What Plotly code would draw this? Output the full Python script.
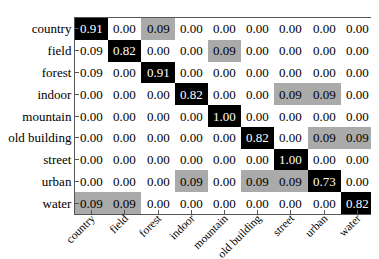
import plotly.graph_objects as go

labels = ["country", "field", "forest", "indoor", "mountain", "old building", "street", "urban", "water"]
# values printed in the cells
values = [
    [0.91, 0.00, 0.09, 0.00, 0.00, 0.00, 0.00, 0.00, 0.00],
    [0.09, 0.82, 0.00, 0.00, 0.09, 0.00, 0.00, 0.00, 0.00],
    [0.09, 0.00, 0.91, 0.00, 0.00, 0.00, 0.00, 0.00, 0.00],
    [0.00, 0.00, 0.00, 0.82, 0.00, 0.00, 0.09, 0.09, 0.00],
    [0.00, 0.00, 0.00, 0.00, 1.00, 0.00, 0.00, 0.00, 0.00],
    [0.00, 0.00, 0.00, 0.00, 0.00, 0.82, 0.00, 0.09, 0.09],
    [0.00, 0.00, 0.00, 0.00, 0.00, 0.00, 1.00, 0.00, 0.00],
    [0.00, 0.00, 0.00, 0.09, 0.00, 0.09, 0.09, 0.73, 0.00],
    [0.09, 0.09, 0.00, 0.00, 0.00, 0.00, 0.00, 0.00, 0.82],
]
# values used for the cell shading (as seen in the picture)
color_values = [
    [0.91, 0.00, 0.09, 0.00, 0.00, 0.00, 0.00, 0.00, 0.00],
    [0.00, 0.82, 0.00, 0.00, 0.09, 0.00, 0.00, 0.00, 0.00],
    [0.00, 0.00, 0.91, 0.00, 0.00, 0.00, 0.00, 0.00, 0.00],
    [0.00, 0.00, 0.00, 0.82, 0.00, 0.00, 0.09, 0.09, 0.00],
    [0.00, 0.00, 0.00, 0.00, 1.00, 0.00, 0.00, 0.00, 0.00],
    [0.00, 0.00, 0.00, 0.00, 0.00, 0.82, 0.00, 0.09, 0.09],
    [0.00, 0.00, 0.00, 0.00, 0.00, 0.00, 1.00, 0.00, 0.00],
    [0.00, 0.00, 0.00, 0.09, 0.00, 0.09, 0.09, 0.73, 0.00],
    [0.09, 0.09, 0.00, 0.00, 0.00, 0.00, 0.00, 0.00, 0.82],
]

n = len(labels)
fig = go.Figure()
fig.add_trace(go.Heatmap(
    z=color_values, x=list(range(n)), y=list(range(n)),
    colorscale=[[0, "#ffffff"], [1, "#000000"]], zmin=0, zmax=0.27,
    showscale=False, xgap=0, ygap=0, hoverinfo="skip",
))

annotations = []
for i, row in enumerate(values):
    for j, v in enumerate(row):
        annotations.append(dict(
            x=j, y=i, text=f"{v:.2f}", showarrow=False,
            font=dict(family="Liberation Serif", size=13,
                      color="#ffffff" if color_values[i][j] > 0.3 else "#000000"),
        ))

axis_common = dict(showline=True, linecolor="#555555", linewidth=1, mirror=True,
                   ticks="inside", ticklen=4, tickcolor="#555555",
                   showgrid=False, zeroline=False, automargin=False)

fig.update_layout(
    width=379, height=259,
    margin=dict(l=67, r=13, t=10, b=53),
    paper_bgcolor="white", plot_bgcolor="white",
    annotations=annotations,
    xaxis=dict(tickvals=list(range(n)), ticktext=labels, tickangle=-45,
               ticklabelstandoff=-8,
               tickfont=dict(family="Liberation Serif", size=11.5, color="#000000"),
               range=[-0.5, n - 0.5], **axis_common),
    yaxis=dict(tickvals=list(range(n)), ticktext=labels, autorange="reversed",
               tickfont=dict(family="Liberation Serif", size=13, color="#000000"),
               **axis_common),
)

fig.write_html("out.html")
